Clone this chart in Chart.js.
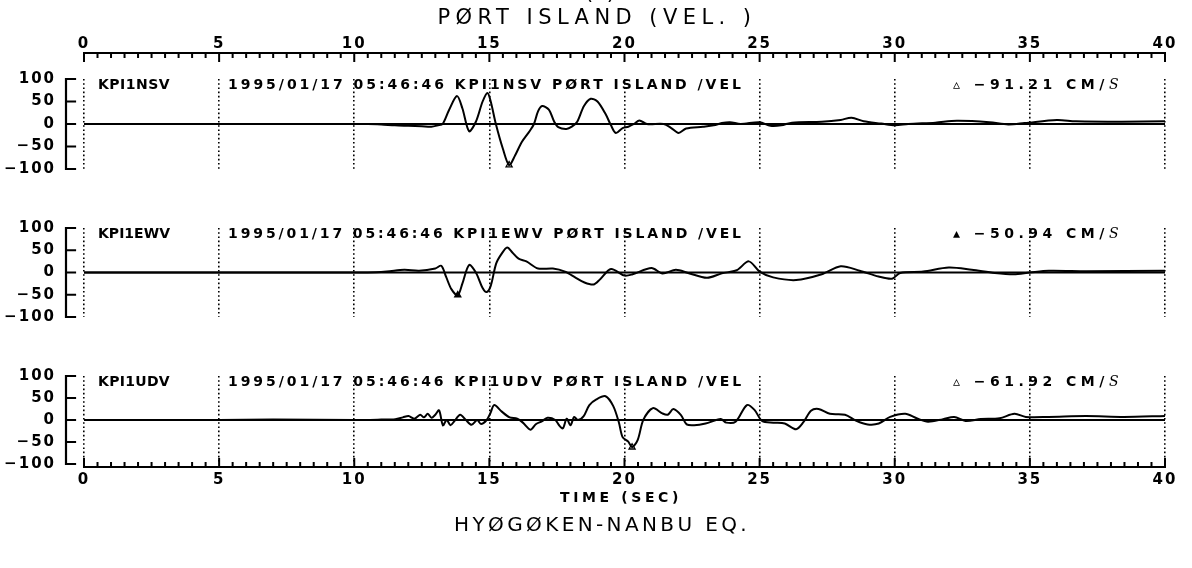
<!DOCTYPE html>
<html>
<head>
<meta charset="utf-8">
<script src="https://cdn.jsdelivr.net/npm/chart.js@4.4.0/dist/chart.umd.min.js"></script>
<style>
  html, body { margin: 0; padding: 0; background: #fff; }
  #page { position: relative; width: 1192px; height: 568px; overflow: hidden; background: #fff; }
  #page canvas { position: absolute; left: 0; }
  .txt { position: absolute; white-space: nowrap; line-height: 1.15; color: #000; font-family: "DejaVu Sans", sans-serif; }
</style>
</head>
<body>
<div id="page">
  <canvas id="ns" width="1192" height="180" style="top:0px"></canvas>
  <canvas id="ew" width="1192" height="113" style="top:216px"></canvas>
  <canvas id="ud" width="1192" height="131" style="top:364px"></canvas>
</div>
<script>
// time (sec) / velocity (cm/s)
const nsTime = [0, 10.5, 11.0, 11.5, 12.0, 12.5, 12.85, 13.1, 13.27, 13.5, 13.8, 14.0, 14.25, 14.5, 14.75, 14.93, 15.05, 15.24, 15.5, 15.73, 15.95, 16.2, 16.5, 16.65, 16.8, 16.95, 17.2, 17.4, 17.55, 17.85, 18.05, 18.25, 18.5, 18.75, 19.0, 19.3, 19.5, 19.68, 19.93, 20.14, 20.35, 20.55, 20.83, 21.45, 21.73, 22.0, 22.28, 22.9, 23.3, 23.6, 23.9, 24.3, 25.0, 25.4, 25.8, 26.2, 27.3, 28.0, 28.4, 28.85, 29.5, 30.0, 30.5, 31.5, 32.3, 33.5, 34.2, 34.8, 36.0, 36.7, 38.4, 40];
const nsVel = [0, 0, -1, -3, -4, -5, -6, -3, 0, 30, 62, 35, -16, 5, 50, 69, 50, 0, -55, -91.21, -70, -40, -15, 0, 28, 40, 32, 5, -7, -11, -6, 5, 40, 56, 50, 22, -3, -20, -9, -6, 0, 8, 0, 0, -9, -20, -10, -6, -3, 2, 4, 0, 4, -4, -3, 3, 5, 9, 14, 6, 1, -3, 0, 3, 7, 4, -1, 2, 9, 6, 5, 6];

const ewTime = [0, 10.5, 11.2, 11.85, 12.4, 13.0, 13.22, 13.4, 13.6, 13.83, 14.0, 14.25, 14.5, 14.75, 14.9, 15.05, 15.25, 15.45, 15.66, 15.85, 16.08, 16.37, 16.8, 17.35, 17.8, 18.2, 18.5, 18.85, 19.1, 19.5, 20.0, 20.3, 21.0, 21.4, 21.9, 22.35, 23.05, 23.6, 24.15, 24.6, 25.0, 25.5, 26.35, 27.3, 28.0, 28.7, 29.4, 29.9, 30.2, 31.05, 32.0, 32.85, 33.7, 34.4, 35.0, 35.7, 37.1, 40];
const ewVel = [0, 0, 2, 6, 4, 9, 15, -10, -38, -50.94, -25, 17, 0, -35, -44, -30, 20, 42, 56, 45, 31, 25, 9, 9, 2, -12, -22, -27, -15, 8, -7, -4, 10, -2, 6, -1, -12, -2, 5, 25, 2, -11, -17, -4, 14, 4, -9, -14, -1, 2, 11, 6, -1, -4, 0, 4, 3, 4];

const udTime = [0, 5, 7, 10, 11.0, 11.52, 11.8, 12.01, 12.22, 12.44, 12.58, 12.72, 12.86, 13.0, 13.14, 13.28, 13.42, 13.56, 13.7, 13.92, 14.13, 14.34, 14.55, 14.69, 14.9, 15.04, 15.18, 15.46, 15.75, 16.03, 16.24, 16.52, 16.73, 16.94, 17.15, 17.44, 17.58, 17.72, 17.86, 18.0, 18.14, 18.28, 18.49, 18.7, 18.96, 19.3, 19.58, 19.79, 19.93, 20.14, 20.28, 20.49, 20.7, 21.05, 21.4, 21.6, 21.81, 22.09, 22.3, 22.58, 23.0, 23.56, 23.77, 24.11, 24.53, 24.81, 25.09, 25.51, 25.93, 26.35, 26.62, 26.9, 27.18, 27.6, 28.16, 28.58, 29.0, 29.41, 29.83, 30.39, 30.81, 31.23, 31.79, 32.2, 32.62, 33.18, 33.88, 34.43, 34.85, 35.69, 37.08, 38.48, 40];
const udVel = [0, 0, 1, 0, 1, 2, 6, 9, 3, 12, 6, 14, 5, 12, 22, -12, 0, -12, -3, 12, 0, -11, 0, -9, 0, 16, 34, 19, 6, 3, -6, -22, -9, -3, 5, 0, -12, -19, 3, -12, 7, 0, 9, 34, 47, 54, 32, -5, -39, -49, -61.92, -45, 1, 27, 15, 12, 25, 11, -10, -12, -8, 2, -6, -4, 34, 23, -2, -6, -8, -21, -5, 21, 25, 14, 12, -2, -10, -8, 7, 14, 4, -4, 2, 7, -2, 2, 4, 14, 7, 7, 9, 7, 9];

const stations = ["KPI1NSV", "KPI1EWV", "KPI1UDV"];
const peakTime = [15.73, 13.83, 20.28];
const peakVel = [-91.21, -50.94, -61.92];
const peakGlyph = ["\u25B5", "\u25B4", "\u25B5"];
const timeRange = [0, 40];
const velTicks = [-100, -50, 0, 50, 100];

const page = document.getElementById("page");
const MINUS = "\u2212";

// axis bracket, zero line and the plotter style time axes
const frame = {
  id: "frame",
  beforeDraw(chart) {
    chart.ctx.letterSpacing = "2px";
  },
  beforeDatasetsDraw(chart) {
    const { ctx, scales: { x, y } } = chart;
    ctx.save();
    ctx.strokeStyle = "#000";
    ctx.lineWidth = 2;
    ctx.beginPath();
    ctx.moveTo(x.getPixelForValue(timeRange[0]), y.getPixelForValue(0));
    ctx.lineTo(x.getPixelForValue(timeRange[1]), y.getPixelForValue(0));
    ctx.stroke();
    ctx.restore();
  },
  afterDraw(chart, args, opts) {
    const { ctx, chartArea: a, scales: { x, y } } = chart;
    ctx.save();
    ctx.strokeStyle = "#000";
    ctx.lineWidth = 2.2;
    ctx.lineCap = "square";
    ctx.beginPath();
    ctx.moveTo(a.left, y.getPixelForValue(velTicks[velTicks.length - 1]));
    ctx.lineTo(a.left, y.getPixelForValue(velTicks[0]));
    velTicks.forEach((v) => {
      const py = y.getPixelForValue(v);
      ctx.moveTo(a.left, py);
      ctx.lineTo(a.left + 9, py);
    });
    ctx.stroke();

    if (opts.axis) {
      const ay = opts.axis === "top" ? a.top + opts.offset : a.bottom + opts.offset;
      const dir = opts.axis === "top" ? 1 : -1;
      ctx.lineWidth = 2;
      ctx.lineCap = "butt";
      ctx.beginPath();
      ctx.moveTo(x.getPixelForValue(timeRange[0]) - 1, ay);
      ctx.lineTo(x.getPixelForValue(timeRange[1]) + 1, ay);
      for (let k = 0; k <= 80; k++) {
        const px = x.getPixelForValue(k / 2);
        const len = k % 10 === 0 ? 9 : 5;
        ctx.moveTo(px, ay);
        ctx.lineTo(px, ay + dir * len);
      }
      ctx.stroke();
    }
    ctx.restore();
  },
};

function makePanel(id, times, vels, idx, axis) {
  const ctx = document.getElementById(id).getContext("2d");
  const xHeight = axis === "top" ? 79 : axis === "bottom" ? 31 : 0;
  return new Chart(ctx, {
    type: "line",
    data: {
      datasets: [
        {
          data: times.map((t, i) => ({ x: t, y: vels[i] })),
          borderColor: "#000",
          borderWidth: 2,
          pointRadius: 0,
          tension: 0.3,
        },
        {
          data: [{ x: peakTime[idx], y: peakVel[idx] }],
          showLine: false,
          pointStyle: "triangle",
          pointRadius: 3.5,
          borderColor: "#000",
          backgroundColor: idx === 1 ? "#000" : "#fff",
          borderWidth: 1.3,
        },
      ],
    },
    options: {
      responsive: false,
      animation: false,
      events: [],
      layout: { padding: { left: 0, right: 27, top: axis === "top" ? 0 : 12, bottom: axis === "top" ? 11 : axis === "bottom" ? 0 : 12 } },
      plugins: {
        legend: { display: false },
        tooltip: { enabled: false },
        frame: { axis: axis, offset: axis === "top" ? -26 : 3 },
      },
      scales: {
        x: {
          type: "linear",
          position: axis === "top" ? "top" : "bottom",
          min: -0.666,
          max: timeRange[1],
          afterFit: (s) => { s.height = xHeight; s.paddingLeft = 0; s.paddingRight = 0; },
          afterBuildTicks: (s) => { s.ticks = s.ticks.filter((t) => t.value >= 0); },
          grid: { color: "#000", lineWidth: 1.6, drawTicks: false },
          border: { display: false, dash: [1.6, 2.6] },
          ticks: {
            display: axis !== null,
            stepSize: 5,
            includeBounds: false,
            autoSkip: false,
            maxRotation: 0,
            padding: axis === "top" ? 26 : 7,
            color: "#000",
            font: { family: "DejaVu Sans", size: 15, weight: "bold" },
          },
        },
        y: {
          min: -100,
          max: 100,
          afterFit: (s) => { s.width = 66; s.paddingTop = 0; s.paddingBottom = 0; },
          grid: { display: false, drawTicks: false },
          border: { display: false },
          ticks: {
            stepSize: 50,
            autoSkip: false,
            padding: 10,
            color: "#000",
            font: { family: "DejaVu Sans", size: 15, weight: "bold" },
            callback: (v) => String(v).replace("-", MINUS),
          },
        },
      },
    },
    plugins: [frame],
  });
}

function addText(html, x, y, w, font, center) {
  const el = document.createElement("div");
  el.className = "txt";
  el.innerHTML = html;
  el.style.font = font;
  page.appendChild(el);
  const n = el.textContent.length;
  const natural = el.getBoundingClientRect().width;
  el.style.letterSpacing = ((w - natural) / n).toFixed(2) + "px";
  const h = el.getBoundingClientRect().height;
  el.style.top = (y - h / 2).toFixed(1) + "px";
  el.style.left = (center ? x - w / 2 : x).toFixed(1) + "px";
  return el;
}

const charts = [
  makePanel("ns", nsTime, nsVel, 0, "top"),
  makePanel("ew", ewTime, ewVel, 1, null),
  makePanel("ud", udTime, udVel, 2, "bottom"),
];

addText("(3)", 600, -8, 30, "21px 'DejaVu Sans'", true);
addText("P\u00D8RT ISLAND (VEL. )", 597, 17, 319, "21px 'DejaVu Sans'", true);

charts.forEach((c, i) => {
  const top = c.canvas.offsetTop + c.chartArea.top;
  const yc = top + 5;
  addText(stations[i], 98, yc, 72, "bold 14px 'DejaVu Sans'", false);
  addText("1995/01/17 05:46:46 " + stations[i] + " P\u00D8RT ISLAND /VEL", 228, yc, 516, "bold 14px 'DejaVu Sans'", false);
  const v = peakVel[i].toFixed(2).replace("-", MINUS);
  addText(peakGlyph[i] + " " + v + " CM/<i style=\"font-family:'DejaVu Serif';font-weight:normal\">S</i>", 953, yc, 170, "bold 14px 'DejaVu Sans'", false);
});

addText("TIME (SEC)", 621, 497, 122, "bold 14px 'DejaVu Sans'", true);
addText("HY\u00D8G\u00D8KEN-NANBU EQ.", 602, 524, 296, "20px 'DejaVu Sans'", true);
</script>
</body>
</html>
